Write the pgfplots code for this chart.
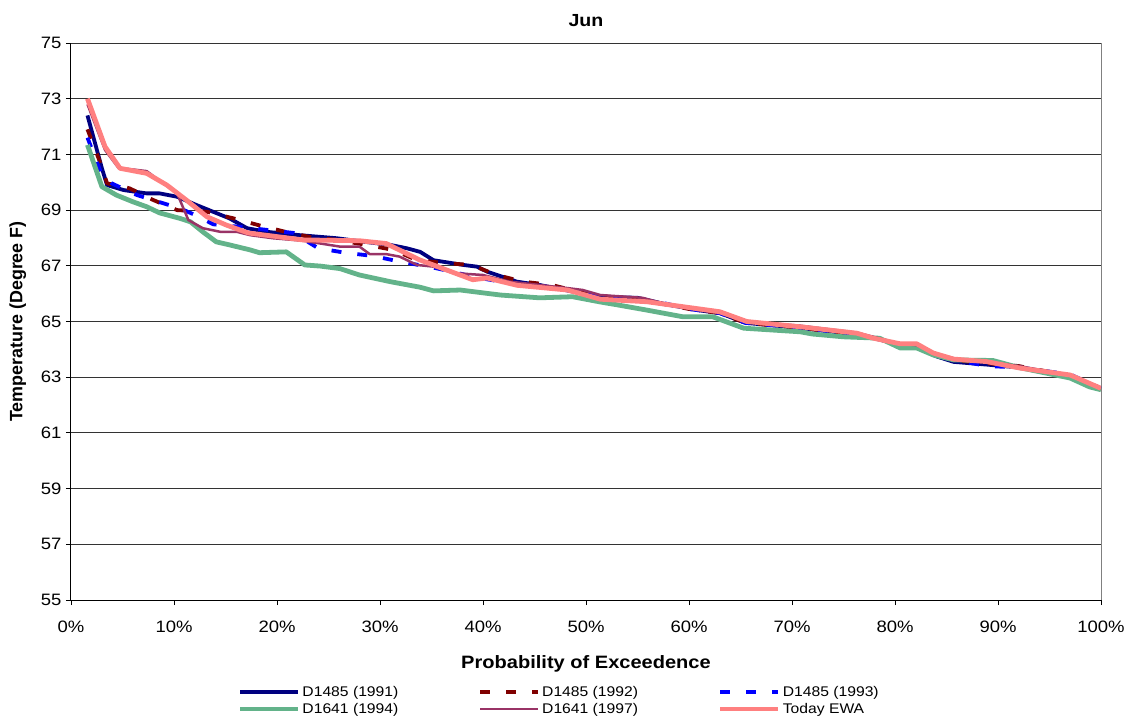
\documentclass[border=0pt]{standalone}
\usepackage{pgfplots}
\pgfplotsset{compat=1.18}
\usepackage{fontspec}
\setmainfont[FakeStretch=1.12]{Liberation Sans}
\newfontfamily\ylabfont{Liberation Sans}
\usetikzlibrary{calc}
\definecolor{cnavy}{HTML}{000080}
\definecolor{cdred}{HTML}{800000}
\definecolor{cblue}{HTML}{0000FF}
\definecolor{cgreen}{HTML}{63B38A}
\definecolor{cpurp}{HTML}{993366}
\definecolor{cpink}{HTML}{FF8080}
\begin{document}
\begin{tikzpicture}
\begin{axis}[
  scale only axis,
  width=1030pt, height=557pt,
  xmin=0, xmax=100, ymin=55, ymax=75,
  xtick={0,10,...,100},
  ytick={55,57,...,75},
  xticklabel={\pgfmathprintnumber{\tick}\%},
  /pgf/number format/assume math mode=true,
  tick label style={font=\fontsize{16.5}{19}\selectfont},
  xticklabel style={yshift=-12pt},
  yticklabel style={xshift=-1pt},
  axis x line*=bottom, axis y line*=left,
  axis line style={-, black, line width=1pt},
  tick align=outside, major tick length=5pt,
  tick style={black, line width=0.9pt},
  ymajorgrids, major grid style={black!80, line width=0.9pt},
  extra x ticks={100}, extra x tick labels={},
  extra x tick style={xmajorgrids, major grid style={gray, line width=1pt}, major tick length=0pt},
  title={\bfseries Jun},
  title style={font=\fontsize{17.5}{20}\selectfont, yshift=7pt},
  xlabel={\bfseries Probability of Exceedence},
  ylabel={\ylabfont\bfseries Temperature (Degree F)},
  label style={font=\fontsize{17.9}{21}\selectfont},
  xlabel style={yshift=-11pt},
  ylabel style={yshift=8pt},
  legend style={at={(0.474,-0.147)}, anchor=north, draw=none, fill=none,
    legend columns=3, font=\fontsize{14}{17}\selectfont,
    /tikz/every even column/.append style={column sep=78pt},
    row sep=1.5pt},
  legend cell align=left,
  legend image code/.code={\draw[#1] (0pt,0pt) -- (58pt,0pt);},
  every axis plot/.append style={line join=round},
]
\addplot[cnavy, line width=3.8pt] coordinates {
(1.6,72.4) (3.0,70.5) (3.5,69.9) (5.1,69.72) (7.35,69.6) (8.6,69.6) (10.3,69.48) (12.2,69.18) (13.8,68.94) (15.4,68.7) (17.1,68.35) (19,68.22) (22.2,68.1) (25.8,67.99) (28.3,67.87) (31,67.75) (32.6,67.63) (33.9,67.5) (35.2,67.2) (38.1,67.03) (39.4,66.97) (40.4,66.79) (43.3,66.43) (45.5,66.31) (48.8,66.07) (51.4,65.89) (55,65.85) (58,65.6) (61,65.4) (63,65.3) (65.5,64.95) (70,64.8) (76,64.55) (78,64.4) (80.5,64.15) (82,64.1) (84,63.75) (85.7,63.55) (89,63.45) (92,63.35) (97,63.05) (100,62.6)
};
\addlegendentry{D1485 (1991)}
\addplot[cdred, line width=3.8pt, dash pattern=on 10pt off 16pt] coordinates {
(1.6,71.9) (2.8,70.74) (3.5,69.96) (5.7,69.78) (8,69.36) (10.3,69.0) (13.2,68.94) (15.8,68.7) (18.2,68.46) (20.8,68.22) (23.4,68.02) (25.8,67.93) (28.7,67.75) (31.3,67.57) (33.6,67.2) (36.5,67.09) (38.9,67.03) (41.3,66.67) (43.9,66.43) (46.7,66.31) (50,66.0) (53,65.85) (56.5,65.7) (60,65.45) (63,65.3) (65.5,64.95) (70,64.8) (76,64.55) (78,64.4) (80.5,64.15) (82,64.1) (84,63.8) (86,63.6) (89,63.5) (92,63.4) (97,63.05) (100,62.6)
};
\addlegendentry{D1485 (1992)}
\addplot[cblue, line width=3.8pt, dash pattern=on 10pt off 16pt] coordinates {
(1.6,71.6) (3,70.26) (3.95,69.96) (6.4,69.54) (9,69.24) (10.6,69.06) (12.2,68.8) (13.8,68.49) (16.4,68.4) (19,68.29) (21.6,68.18) (24,67.63) (26.6,67.47) (29.4,67.35) (31.9,67.15) (35,66.95) (39.7,66.56) (43,66.35) (46.5,66.25) (50,66.0) (53,65.8) (56.5,65.75) (60,65.45) (63,65.3) (65.5,64.95) (70,64.8) (76,64.55) (78,64.4) (80.5,64.15) (82,64.1) (84,63.75) (86,63.6) (89,63.4) (92,63.35) (97,63.1) (100,62.6)
};
\addlegendentry{D1485 (1993)}
\addplot[cgreen, line width=4.8pt] coordinates {
(1.6,71.34) (3.0,69.84) (4.4,69.54) (6.0,69.3) (7.35,69.12) (8.6,68.9) (10.6,68.7) (11.6,68.58) (12.8,68.22) (14.1,67.86) (15.4,67.75) (17.4,67.57) (18.3,67.47) (20.9,67.5) (22.7,67.03) (24.2,66.99) (26.1,66.9) (28,66.67) (31,66.43) (33.9,66.23) (35.2,66.1) (37.8,66.13) (41.7,65.95) (45.5,65.85) (48.7,65.89) (51.4,65.7) (53,65.6) (55.9,65.41) (59.4,65.17) (62.3,65.17) (65.3,64.76) (70.8,64.63) (72,64.55) (75,64.45) (78.5,64.4) (80.5,64.05) (82.1,64.05) (83.7,63.8) (85.7,63.62) (89.5,63.6) (92,63.35) (97,62.97) (98.9,62.65) (100,62.55)
};
\addlegendentry{D1641 (1994)}
\addplot[cpurp, line width=2.5pt] coordinates {
(1.6,72.8) (3.3,71.16) (4.6,70.52) (7.35,70.4) (8.3,70.14) (10.3,69.6) (11.4,68.64) (12.8,68.35) (14.5,68.22) (16.1,68.22) (17.4,68.1) (19.6,67.99) (22.5,67.9) (26.1,67.69) (28,67.69) (29,67.42) (30.6,67.42) (31.9,67.33) (33.6,67.03) (35.2,66.97) (37.1,66.74) (40,66.67) (42.6,66.43) (48.2,66.2) (49.7,66.13) (51.4,65.95) (55.5,65.85) (58,65.6) (61,65.4) (63,65.3) (65.6,65.0) (70.8,64.85) (76.3,64.6) (77.9,64.45) (80.5,64.2) (82.1,64.15) (84,63.85) (86,63.65) (89,63.55) (92,63.4) (97,63.08) (100,62.6)
};
\addlegendentry{D1641 (1997)}
\addplot[cpink, line width=4.8pt] coordinates {
(1.6,73.0) (3.3,71.28) (4.76,70.5) (7.35,70.32) (9.3,69.9) (11.2,69.36) (13.2,68.76) (15.1,68.46) (17.2,68.18) (22.5,67.93) (28,67.9) (30.6,67.8) (33.8,67.22) (39,66.5) (40.4,66.56) (43.3,66.3) (48.2,66.13) (51.4,65.8) (55.9,65.71) (63,65.35) (65.6,65.0) (70.8,64.81) (76.3,64.58) (77.9,64.4) (80.5,64.2) (82.1,64.2) (83.7,63.87) (85.7,63.65) (88.9,63.56) (92.1,63.33) (97,63.08) (100,62.6)
};
\addlegendentry{Today EWA}
\end{axis}
\path[use as bounding box] ($(current axis.south west)+(-71pt,-123pt)$) rectangle ($(current axis.north east)+(27pt,43pt)$);
\end{tikzpicture}
\end{document}
